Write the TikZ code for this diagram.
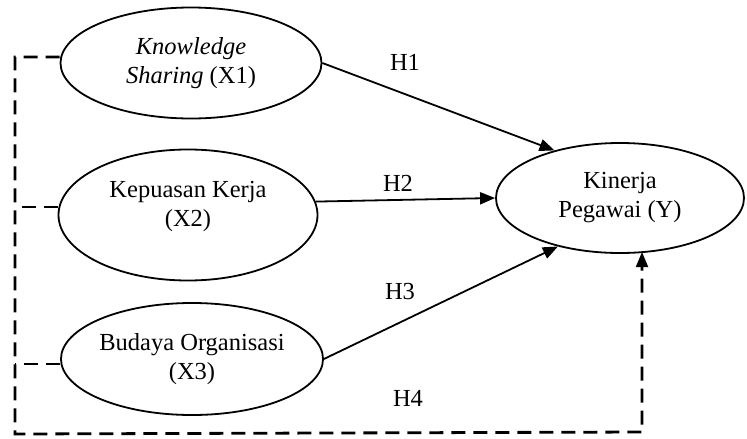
\documentclass[tikz,border=0pt]{standalone}
\usepackage{fontspec}
\setmainfont{Liberation Serif}
\usetikzlibrary{shapes.geometric,arrows.meta}
\begin{document}
\begin{tikzpicture}[x=1pt,y=-1pt,
  var/.style={ellipse,draw,line width=1.8pt,inner sep=0pt,align=center,
    font=\fontsize{24.5}{29}\selectfont},
  lbl/.style={font=\fontsize{24.5}{29}\selectfont,inner sep=0pt},
  solidarrow/.style={line width=1.8pt,-{Triangle[length=15pt,width=12pt]}},
  dashline/.style={line width=2.8pt,dash pattern=on 14pt off 8pt}]
\useasboundingbox (0,0) rectangle (747,439);
\node[var,minimum width=261pt,minimum height=111pt] (x1) at (191,63) {\textit{Knowledge}\\\textit{Sharing} (X1)};
\node[var,minimum width=259pt,minimum height=131pt] (x2) at (188,215) {Kepuasan Kerja\\(X2)\\[-6pt]};
\node[var,minimum width=261pt,minimum height=112pt] (x3) at (192,359) {Budaya Organisasi\\(X3)};
\node[var,minimum width=248pt,minimum height=110pt] (y) at (620,198) {Kinerja\\Pegawai (Y)};
\draw[solidarrow] (x1.east) -- (y.144);
\draw[solidarrow] (x2.6) -- (y.west);
\draw[solidarrow] (x3.east) -- (y.218);
\node[lbl] (h1) at (405,62) {H1};
\node[lbl] (h2) at (398,183) {H2};
\node[lbl] (h3) at (400,292) {H3};
\node[lbl] (h4) at (408,398) {H4};
\coordinate (tl) at (15,57);
\coordinate (ml) at (15,207);
\coordinate (ll) at (15,364);
\coordinate (bl) at (15,434);
\coordinate (br) at (642,432);
\draw[dashline] (x1.west |- tl) -- (tl) -- (bl) -- (br) -- (br |- y.south);
\draw[line width=1.8pt,-{Triangle[length=15pt,width=12pt]}] (642,263) -- (642,252);
\draw[dashline] (x2.west |- ml) -- (ml);
\draw[dashline] (x3.west |- ll) -- (ll);
\end{tikzpicture}
\end{document}
